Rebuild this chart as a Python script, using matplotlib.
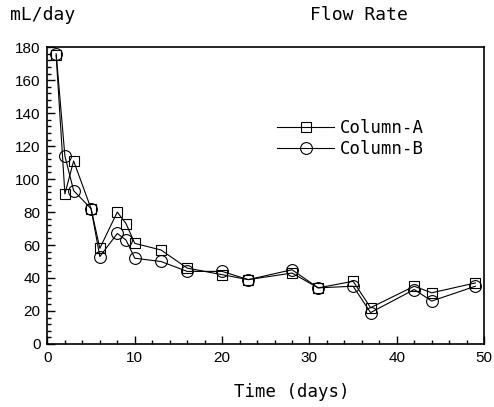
import matplotlib
matplotlib.use("Agg")
import matplotlib.pyplot as plt
from matplotlib.ticker import MultipleLocator

# Flow rate readings (mL/day) by day
days = [1, 2, 3, 5, 6, 8, 9, 10, 13, 16, 20, 23, 28, 31, 35, 37, 42, 44, 49]
column_a = [175, 91, 111, 82, 58, 80, 73, 61, 57, 46, 42, 39, 43, 34, 38, 22, 35, 31, 37]
column_b = [176, 114, 93, 82, 53, 67, 63, 52, 50, 44, 44, 39, 45, 34, 35, 19, 33, 26, 35]

series_names = ["Column-A", "Column-B"]
x_label = "Time (days)"
y_unit = "mL/day"
title = "Flow Rate"

text_font = "DejaVu Sans Mono"
tick_font = "Liberation Sans"

fig = plt.figure(figsize=(4.94, 4.07), dpi=100)
ax = fig.add_axes([0.096, 0.155, 0.884, 0.729])

ax.plot(days, column_a, color="black", lw=0.8, marker="s", ms=7.5,
        mfc="none", mec="black", mew=0.8, label=series_names[0])
ax.plot(days, column_b, color="black", lw=0.8, marker="o", ms=8.5,
        mfc="none", mec="black", mew=0.8, label=series_names[1])

ax.set_xlim(0, 50)
ax.set_ylim(0, 180)
ax.xaxis.set_major_locator(MultipleLocator(10))
ax.xaxis.set_minor_locator(MultipleLocator(2))
ax.yaxis.set_major_locator(MultipleLocator(20))
ax.yaxis.set_minor_locator(MultipleLocator(4))
ax.tick_params(which="both", direction="in", top=False, right=False,
               labelsize=11, width=1.0)
ax.tick_params(which="major", length=5.5, pad=5)
ax.tick_params(which="minor", length=3)
for lab in ax.get_xticklabels() + ax.get_yticklabels():
    lab.set_fontfamily(tick_font)
for sp in ax.spines.values():
    sp.set_linewidth(1.2)

leg = ax.legend(loc="upper left", bbox_to_anchor=(0.49, 0.81), frameon=False,
                handlelength=3.3, handletextpad=0.3, labelspacing=0.15,
                prop={"family": text_font, "size": 12.5})

fig.text(0.02, 0.962, y_unit, family=text_font, fontsize=13, va="center")
fig.text(0.627, 0.962, title, family=text_font, fontsize=13, va="center")
fig.text(0.59, 0.037, x_label, family=text_font, fontsize=12.5,
         ha="center", va="center")

fig.savefig("out.png", dpi=100)
